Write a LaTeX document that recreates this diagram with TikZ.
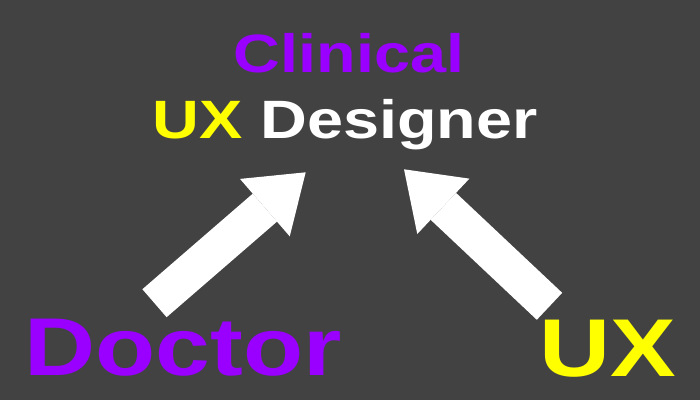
\documentclass[tikz,border=0pt]{standalone}
\usepackage{fontspec}
\newfontfamily\wideSans[FakeStretch=1.2]{Liberation Sans}
\usetikzlibrary{arrows.meta}

\definecolor{bgGray}{RGB}{66,66,66}
\definecolor{docPurple}{RGB}{153,0,255}
\definecolor{uxYellow}{RGB}{255,255,0}

\begin{document}
\begin{tikzpicture}[
        x=1pt, y=-1pt,
        titleText/.style={
            inner sep=0pt, anchor=base,
            font=\wideSans\bfseries\fontsize{54}{60}\selectfont
        },
        bigText/.style={
            inner sep=0pt,
            font=\wideSans\bfseries\fontsize{82}{90}\selectfont
        },
        bigArrow/.style={
            draw=white, line width=37pt,
            -{Triangle[length=54pt, width=76pt, line width=0pt]}
        }
    ]
        % Background
        \fill[bgGray] (0,0) rectangle (700,400);
        \useasboundingbox (0,0) rectangle (700,400);

        % Title
        \node (clinical) [titleText, text=docPurple] at (349,72.5) {Clinical};
        \node (designer) [titleText, text=white] at (345,138.5) {{\color{uxYellow}UX} Designer};

        % Sources
        \node (doctor) [bigText, text=docPurple, anchor=base west] at (24.5,375.5) {Doctor};
        \node (ux) [bigText, text=uxYellow, anchor=base east] at (676,376) {UX};

        % Arrows
        \coordinate (docTail) at (154.5,303.2);
        \coordinate (docTip) at (305.7,172.3);
        \coordinate (uxTail) at (549.5,306.3);
        \coordinate (uxTip) at (404,169.3);
        \draw [bigArrow] (docTail) -- (docTip);
        \draw [bigArrow] (uxTail) -- (uxTip);
    \end{tikzpicture}
\end{document}
